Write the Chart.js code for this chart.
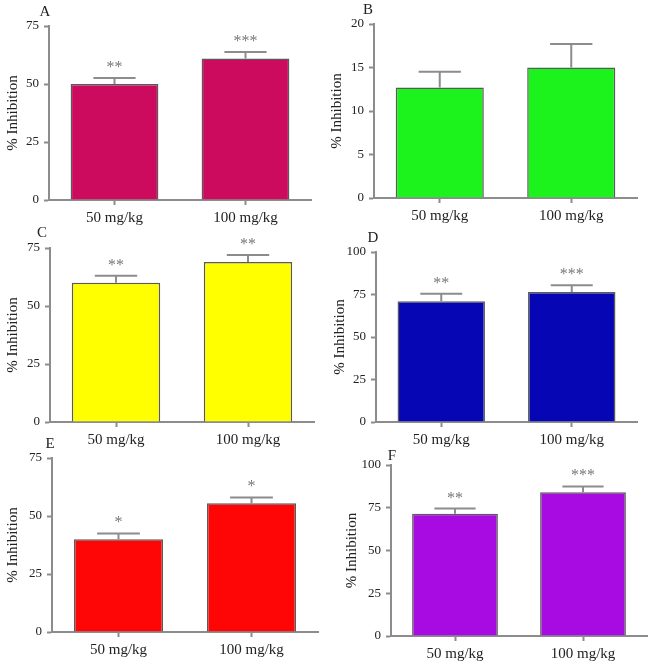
<!DOCTYPE html>
<html>
<head>
<meta charset="utf-8">
<script src="https://cdn.jsdelivr.net/npm/chart.js@4.4.1/dist/chart.umd.min.js"></script>
<style>
  body { margin: 0; background: #fff; }
  #wrap { position: relative; width: 655px; height: 664px; overflow: hidden; }
  .panel { position: absolute; }
</style>
</head>
<body>
<div id="wrap"></div>
<script>
// data
const doses = ['50 mg/kg', '100 mg/kg'];
const panelNames = ['A', 'B', 'C', 'D', 'E', 'F'];

const meanA = [50, 61];
const semA = [2.6, 2.8];
const starsA = ['**', '***'];

const meanB = [12.7, 15.0];
const semB = [1.8, 2.7];
const starsB = ['', ''];

const meanC = [60, 69];
const semC = [3, 3];
const starsC = ['**', '**'];

const meanD = [71, 76.5];
const semD = [4.5, 4];
const starsD = ['**', '***'];

const meanE = [40, 55.5];
const semE = [2.5, 2.5];
const starsE = ['*', '*'];

const meanF = [71.5, 84];
const semF = [3, 3.5];
const starsF = ['**', '***'];

const yMax = [75, 20, 75, 100, 75, 100];
const yStep = [25, 5, 25, 25, 25, 25];

const means = [meanA, meanB, meanC, meanD, meanE, meanF];
const sems = [semA, semB, semC, semD, semE, semF];
const stars = [starsA, starsB, starsC, starsD, starsE, starsF];
const barColors = ['#cc0a5e', '#1cf21c', '#ffff00', '#0606b4', '#ff0606', '#a80ae2'];

// layout (page pixels): canvas left, y-axis x, top of y-axis, zero line, right end of x-axis, letter offset
const layout = [
  { left: 0,   axisX: 49,  yTop: 26,  yZero: 200, xRight: 311, ldx: -4, ldy: -14 },
  { left: 324, axisX: 374, yTop: 24,  yZero: 198, xRight: 637, ldx: -6, ldy: -14 },
  { left: 0,   axisX: 50,  yTop: 248, yZero: 422, xRight: 314, ldx: -8, ldy: -15 },
  { left: 327, axisX: 376, yTop: 252, yZero: 422, xRight: 637, ldx: -3, ldy: -14 },
  { left: 0,   axisX: 52,  yTop: 458, yZero: 632, xRight: 318, ldx: -2, ldy: -14 },
  { left: 339, axisX: 391, yTop: 465, yZero: 636, xRight: 647, ldx: 1,  ldy: -9 },
];

const padTop = 26;
const padRight = 6;
const xAxisH = 30;
const axisGray = '#8c8c8c';
const serif = 'Liberation Serif, Times New Roman, serif';

const errorBars = {
  id: 'errorBars',
  afterDatasetsDraw(chart, args, opts) {
    const { ctx } = chart;
    const yScale = chart.scales.y;
    const meta = chart.getDatasetMeta(0);
    ctx.save();
    meta.data.forEach((bar, i) => {
      const top = yScale.getPixelForValue(opts.mean[i] + opts.sem[i]);
      const half = bar.width * 0.24;
      ctx.strokeStyle = axisGray;
      ctx.lineWidth = 2;
      ctx.beginPath();
      ctx.moveTo(bar.x, bar.y);
      ctx.lineTo(bar.x, top);
      ctx.moveTo(bar.x - half, top);
      ctx.lineTo(bar.x + half, top);
      ctx.stroke();
      if (opts.stars[i]) {
        ctx.fillStyle = '#777';
        ctx.font = '16px ' + serif;
        ctx.textAlign = 'center';
        ctx.textBaseline = 'alphabetic';
        ctx.fillText(opts.stars[i], bar.x, top - 6);
      }
    });
    const a = chart.chartArea;
    ctx.fillStyle = '#222';
    ctx.font = '15px ' + serif;
    ctx.textAlign = 'center';
    ctx.textBaseline = 'middle';
    ctx.fillText(opts.letter, a.left + opts.ldx, a.top + opts.ldy);
    ctx.restore();
  }
};

const wrap = document.getElementById('wrap');

panelNames.forEach((name, p) => {
  const L = layout[p];
  const cTop = L.yTop - padTop;
  const w = L.xRight - L.left + padRight;
  const h = L.yZero - cTop + xAxisH;
  const box = document.createElement('div');
  box.className = 'panel';
  box.style.left = L.left + 'px';
  box.style.top = cTop + 'px';
  box.style.width = w + 'px';
  box.style.height = h + 'px';
  const cv = document.createElement('canvas');
  box.appendChild(cv);
  wrap.appendChild(box);

  new Chart(cv, {
    type: 'bar',
    data: {
      labels: doses,
      datasets: [{
        data: means[p],
        backgroundColor: barColors[p],
        borderColor: '#5a5a5a',
        borderWidth: 1.5,
        barPercentage: 0.67,
        categoryPercentage: 1,
      }],
    },
    options: {
      responsive: true,
      maintainAspectRatio: false,
      animation: false,
      layout: { padding: { top: padTop, right: padRight, left: 0, bottom: 0 } },
      plugins: {
        legend: { display: false },
        tooltip: { enabled: false },
        errorBars: { mean: means[p], sem: sems[p], stars: stars[p], letter: name, ldx: L.ldx, ldy: L.ldy },
      },
      scales: {
        x: {
          afterFit: (s) => { s.height = xAxisH; },
          border: { color: axisGray, width: 2 },
          grid: { drawOnChartArea: false, offset: false, tickLength: 5, tickColor: axisGray, tickWidth: 2 },
          ticks: { color: '#222', font: { family: serif, size: 15 }, padding: 4 },
        },
        y: {
          min: 0,
          max: yMax[p],
          afterFit: (s) => { s.width = L.axisX - L.left; },
          border: { color: axisGray, width: 2 },
          grid: { drawOnChartArea: false, tickLength: 5, tickColor: axisGray, tickWidth: 2 },
          ticks: { stepSize: yStep[p], color: '#222', font: { family: serif, size: 13 }, padding: 5 },
          title: { display: true, text: '% Inhibition', color: '#222', font: { family: serif, size: 15 } },
        },
      },
    },
    plugins: [errorBars],
  });
});
</script>
</body>
</html>
